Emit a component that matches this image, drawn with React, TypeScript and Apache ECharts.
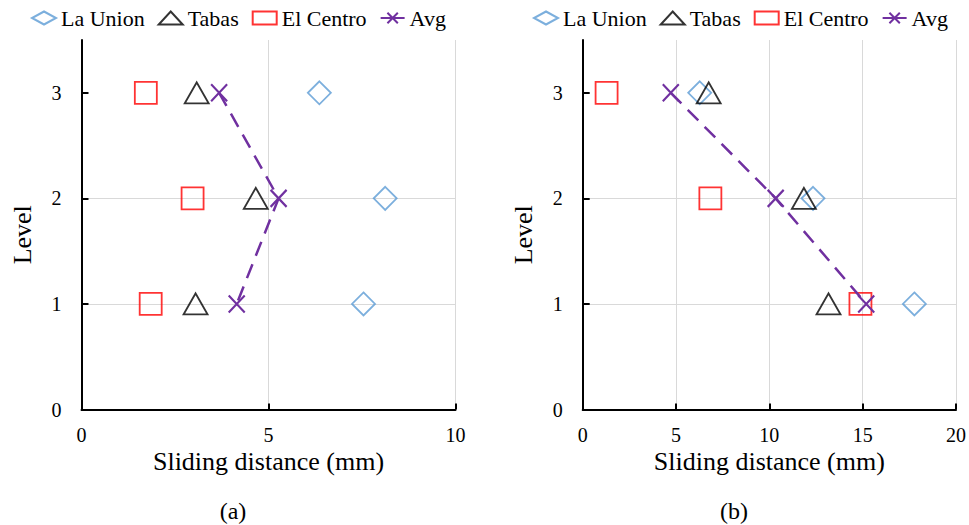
import React, { useEffect, useRef } from "react";
import * as echarts from "echarts";

// Level categories (y values)
const levels = [3, 2, 1];

// Panel (a) sliding distances (mm), ordered by level 3, 2, 1
const aLaUnion = [6.36, 8.12, 7.54];
const aTabas = [3.08, 4.66, 3.05];
const aElCentro = [1.72, 2.97, 1.85];
const aAvg = [3.68, 5.27, 4.15];

// Panel (b) sliding distances (mm), ordered by level 3, 2, 1
const bLaUnion = [6.27, 12.34, 17.77];
const bTabas = [6.75, 11.85, 13.17];
const bElCentro = [1.28, 6.84, 14.88];
const bAvg = [4.72, 10.34, 15.19];

const seriesNames = ["La Union", "Tabas", "El Centro", "Avg"];
const xMaxA = 10;
const xMaxB = 20;
const yMax = 3.5;
const yTicks = [0, 1, 2, 3];
const xAxisName = "Sliding distance (mm)";
const yAxisName = "Level";
const panelLabels = ["(a)", "(b)"];

const FONT = "Liberation Serif, Times New Roman, serif";
const X_PATH = "path://M0,0L10,10M0,10L10,0";

const pairs = (xs: number[]) => xs.map((x, i) => [x, levels[i]]);

function makeSeries(idx: number, lu: number[], tb: number[], ec: number[], av: number[]) {
  const common = { xAxisIndex: idx, yAxisIndex: idx };
  return [
    {
      ...common,
      name: seriesNames[0],
      type: "scatter",
      symbol: "diamond",
      symbolSize: 23,
      itemStyle: { color: "rgba(0,0,0,0)", borderColor: "#5B9BD5", borderWidth: 1.8 },
      data: pairs(lu),
    },
    {
      ...common,
      name: seriesNames[1],
      type: "scatter",
      symbol: "triangle",
      symbolSize: [24, 21],
      itemStyle: { color: "rgba(0,0,0,0)", borderColor: "#000000", borderWidth: 1.8 },
      data: pairs(tb),
    },
    {
      ...common,
      name: seriesNames[2],
      type: "scatter",
      symbol: "rect",
      symbolSize: 22,
      itemStyle: { color: "rgba(0,0,0,0)", borderColor: "#FF0000", borderWidth: 1.8 },
      data: pairs(ec),
    },
    {
      ...common,
      name: seriesNames[3],
      type: "line",
      symbol: X_PATH,
      symbolSize: [16, 17],
      showSymbol: true,
      lineStyle: { color: "#7030A0", width: 2.5, type: [15, 9] },
      itemStyle: { color: "#7030A0", borderColor: "#7030A0", borderWidth: 2.2 },
      data: pairs(av),
    },
  ];
}

function xAxisOpt(idx: number, max: number) {
  return {
    gridIndex: idx,
    type: "value",
    min: 0,
    max,
    interval: 5,
    name: xAxisName,
    nameLocation: "middle",
    nameGap: 41,
    nameMoveOverlap: false,
    nameTextStyle: { fontFamily: FONT, fontSize: 26, lineHeight: 22, color: "#000" },
    axisLine: { show: true, lineStyle: { color: "#000", width: 2 } },
    axisTick: { show: true, inside: true, length: 6, lineStyle: { color: "#000", width: 2 } },
    axisLabel: { fontFamily: FONT, fontSize: 20, lineHeight: 18, color: "#000", margin: 16 },
    splitLine: { show: true, lineStyle: { color: "#d9d9d9", width: 1 } },
  };
}

function yAxisOpt(idx: number) {
  return {
    gridIndex: idx,
    type: "value",
    min: 0,
    max: yMax,
    interval: 1,
    name: yAxisName,
    nameLocation: "middle",
    nameGap: 46,
    nameRotate: 90,
    nameTextStyle: { fontFamily: FONT, fontSize: 26, color: "#000", padding: [0, 20, 0, 0] },
    axisLine: { show: true, onZero: false, lineStyle: { color: "#000", width: 2 } },
    axisTick: { show: true, inside: true, length: 7, lineStyle: { color: "#000", width: 2 }, customValues: yTicks },
    axisLabel: {
      fontFamily: FONT,
      fontSize: 20,
      color: "#000",
      margin: 20,
      customValues: yTicks,
      formatter: (v: number) => (Number.isInteger(v) ? String(v) : ""),
    },
    splitLine: { show: true, showMaxLine: false, lineStyle: { color: "#d9d9d9", width: 1 } },
  };
}

function legendOpt(left: number) {
  return {
    left,
    top: 2,
    data: seriesNames,
    itemWidth: 24,
    itemHeight: 13,
    itemGap: 13,
    textStyle: { fontFamily: FONT, fontSize: 22, color: "#000" },
    lineStyle: { type: "solid" },
    selectedMode: false,
  };
}

export default function App() {
  const ref = useRef<HTMLDivElement>(null);
  useEffect(() => {
    if (!ref.current) return;
    const chart = echarts.init(ref.current, undefined, { renderer: "svg" });
    chart.setOption({
      animation: false,
      backgroundColor: "#ffffff",
      legend: [legendOpt(26), legendOpt(528)],
      grid: [
        { left: 81.5, top: 40, width: 374, height: 369.5 },
        { left: 582.7, top: 40, width: 374, height: 369.5 },
      ],
      xAxis: [xAxisOpt(0, xMaxA), xAxisOpt(1, xMaxB)],
      yAxis: [yAxisOpt(0), yAxisOpt(1)],
      series: [
        ...makeSeries(0, aLaUnion, aTabas, aElCentro, aAvg),
        ...makeSeries(1, bLaUnion, bTabas, bElCentro, bAvg),
      ],
      graphic: [
        {
          type: "text",
          x: 233,
          y: 511,
          style: { text: panelLabels[0], fontFamily: FONT, fontSize: 24, fill: "#000", align: "center", verticalAlign: "middle" },
        },
        {
          type: "text",
          x: 734,
          y: 511,
          style: { text: panelLabels[1], fontFamily: FONT, fontSize: 24, fill: "#000", align: "center", verticalAlign: "middle" },
        },
      ],
    });
    return () => chart.dispose();
  }, []);
  return (
    <div
      ref={ref}
      style={{ position: "fixed", left: 0, top: 0, width: 969, height: 525, background: "#fff" }}
    />
  );
}
